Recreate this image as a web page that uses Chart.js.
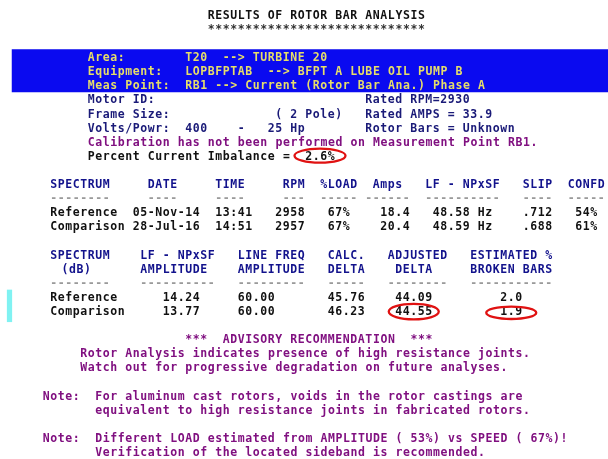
<!DOCTYPE html>
<html>
<head>
<meta charset="utf-8">
<script src="https://cdn.jsdelivr.net/npm/chart.js@4.4.1/dist/chart.umd.min.js"></script>
<style>
  html, body { margin: 0; padding: 0; background: #ffffff; }
  canvas { display: block; }
</style>
</head>
<body>
<canvas id="report" width="608" height="459"></canvas>
<script>
// ------------------------------------------------------------------
// DATA (read from the reference report)
// ------------------------------------------------------------------
const reportTitle = 'RESULTS OF ROTOR BAR ANALYSIS';
const bandLabels = ['Area:', 'Equipment:', 'Meas Point:'];
const bandValues = [
  'T20  --> TURBINE 20',
  'LOPBFPTAB  --> BFPT A LUBE OIL PUMP B',
  'RB1 --> Current (Rotor Bar Ana.) Phase A'
];
const motorLabels = ['Motor ID:', 'Frame Size:', 'Volts/Powr:'];
const motorId = '';
const poles = 2;
const volts = 400;
const horsepower = 25;
const ratedRPM = 2930;
const ratedAmps = 33.9;
const rotorBars = 'Unknown';
const calibrationNote = 'Calibration has not been performed on Measurement Point RB1.';
const currentImbalance = 2.6;   // percent

// Table 1
const table1Headers = ['SPECTRUM', 'DATE', 'TIME', 'RPM', '%LOAD', 'Amps', 'LF - NPxSF', 'SLIP', 'CONFD'];
const spectra    = ['Reference', 'Comparison'];
const dates      = ['05-Nov-14', '28-Jul-16'];
const times      = ['13:41', '14:51'];
const rpm        = [2958, 2957];
const loadPct    = [67, 67];
const amps       = [18.4, 20.4];
const lfFreqHz   = [48.58, 48.59];
const slip       = [0.712, 0.688];
const confidence = [54, 61];

// Table 2
const table2Headers1 = ['SPECTRUM', 'LF - NPxSF', 'LINE FREQ', 'CALC.', 'ADJUSTED', 'ESTIMATED %'];
const table2Headers2 = ['(dB)', 'AMPLITUDE', 'AMPLITUDE', 'DELTA', 'DELTA', 'BROKEN BARS'];
const lfAmplitude       = [14.24, 13.77];
const lineFreqAmplitude = [60.00, 60.00];
const calcDelta         = [45.76, 46.23];
const adjustedDelta     = [44.09, 44.55];
const brokenBarsPct     = [2.0, 1.9];

// Advisory & notes
const advisoryTitle = '***  ADVISORY RECOMMENDATION  ***';
const advisoryLines = [
  'Rotor Analysis indicates presence of high resistance joints.',
  'Watch out for progressive degradation on future analyses.'
];
const noteLabel = 'Note:';
const notes = [
  ['For aluminum cast rotors, voids in the rotor castings are',
   'equivalent to high resistance joints in fabricated rotors.'],
  ['Different LOAD estimated from AMPLITUDE ( 53%) vs SPEED ( 67%)!',
   'Verification of the located sideband is recommended.']
];

// ------------------------------------------------------------------
// LAYOUT / STYLE (text grid: columns x rows)
// ------------------------------------------------------------------
const CANVAS_W = 608, CANVAS_H = 459;
const CELL_W = 7.5, ROW_H = 14.1;
const ORIGIN_X = 50, ORIGIN_Y = 57;
const FONT_PX = 11.5;
const FONT = 'bold ' + FONT_PX + 'px "DejaVu Sans Mono", "Liberation Mono", monospace';

const C_BLACK  = '#111111';
const C_NAVY   = '#1a1a78';
const C_HEAD   = '#12128c';
const C_DASH   = '#9a9a9a';
const C_PURPLE = '#801080';
const C_BAND   = '#0a0af0';
const C_BANDTX = '#e6de6a';
const C_RED    = '#e01212';
const C_CYAN   = '#80f2f2';

const fmt2 = v => v.toFixed(2);
const fmt1 = v => v.toFixed(1);
const fmtSlip = v => v.toFixed(3).replace(/^0/, '');

// ------------------------------------------------------------------
// Plugin that typesets the report on the chart's scales
// ------------------------------------------------------------------
const reportPlugin = {
  id: 'rotorReport',
  afterDraw(chart) {
    const ctx = chart.ctx;
    const xs = chart.scales.x, ys = chart.scales.y;
    const X = c => xs.getPixelForValue(c);
    const Y = r => ys.getPixelForValue(r);
    const cw = X(1) - X(0);

    ctx.save();
    // blue header band
    ctx.fillStyle = C_BAND;
    ctx.fillRect(X(-5.1), Y(-0.55), X(75) - X(-5.1), Y(2.5) - Y(-0.55));
    // cyan marker at left of table 2 rows
    ctx.fillStyle = C_CYAN;
    ctx.fillRect(X(-5.75), Y(16.5), X(-5.05) - X(-5.75), Y(18.8) - Y(16.5));

    ctx.font = FONT;
    ctx.letterSpacing = '0px';
    const adv = ctx.measureText('MMMMMMMMMM').width / 10;
    const extra = cw - adv;
    ctx.letterSpacing = extra.toFixed(2) + 'px';
    ctx.textAlign = 'left';
    ctx.textBaseline = 'alphabetic';
    const base = FONT_PX * 0.729 / 2;
    const put = (text, col, row, color) => {
      ctx.fillStyle = color;
      ctx.fillText(String(text), X(col) + extra / 2, Y(row) + base);
    };
    const dashes = n => '-'.repeat(n);

    // title
    put(reportTitle, 21, -3, C_BLACK);
    put('*'.repeat(reportTitle.length), 21, -2, '#333333');

    // band lines
    bandLabels.forEach((lab, i) => {
      put(lab, 5, i, C_BANDTX);
      put(bandValues[i], 18, i, C_BANDTX);
    });

    // motor info
    put(motorLabels[0], 5, 3, C_NAVY);
    put(motorId, 18, 3, C_NAVY);
    put('Rated RPM=' + ratedRPM, 42, 3, C_NAVY);
    put(motorLabels[1], 5, 4, C_NAVY);
    put('( ' + poles + ' Pole)', 30, 4, C_NAVY);
    put('Rated AMPS = ' + fmt1(ratedAmps), 42, 4, C_NAVY);
    put(motorLabels[2], 5, 5, C_NAVY);
    put(String(volts), 18, 5, C_NAVY);
    put('-', 25, 5, C_NAVY);
    put(horsepower + ' Hp', 29, 5, C_NAVY);
    put('Rotor Bars = ' + rotorBars, 42, 5, C_NAVY);
    put(calibrationNote, 5, 6, C_PURPLE);
    put('Percent Current Imbalance =', 5, 7, C_BLACK);
    const imbText = fmt1(currentImbalance) + '%';
    put(imbText, 34, 7, C_BLACK);

    // ---- table 1 ----
    const t1HeadCols = [0, 13, 22, 31, 36, 43, 50, 63, 69];
    const t1DashCols = [0, 13, 22, 31, 36, 42, 50, 63, 69];
    const t1DashLens = [8, 4, 4, 3, 5, 6, 10, 4, 5];
    const t1ValCols  = [0, 11, 22, 30, 37, 44, 51, 63, 70];
    table1Headers.forEach((h, i) => {
      put(h, t1HeadCols[i], 9, C_HEAD);
      put(dashes(t1DashLens[i]), t1DashCols[i], 10, C_DASH);
    });
    spectra.forEach((s, r) => {
      const row = 11 + r;
      const cells = [s, dates[r], times[r], String(rpm[r]), loadPct[r] + '%',
                     fmt1(amps[r]), fmt2(lfFreqHz[r]) + ' Hz', fmtSlip(slip[r]), confidence[r] + '%'];
      cells.forEach((c, i) => put(c, t1ValCols[i], row, C_BLACK));
    });

    // ---- table 2 ----
    const t2HeadCols  = [0, 12, 25, 37, 45, 56];
    const t2Head2Cols = [1.5, 12, 25, 37, 46, 56];
    const t2DashLens  = [8, 10, 9, 5, 8, 11];
    const t2ValCols   = [0, 15, 25, 37, 46, 60];
    table2Headers1.forEach((h, i) => {
      put(h, t2HeadCols[i], 14, C_HEAD);
      put(table2Headers2[i], t2Head2Cols[i], 15, C_HEAD);
      put(dashes(t2DashLens[i]), t2HeadCols[i], 16, C_DASH);
    });
    spectra.forEach((s, r) => {
      const row = 17 + r;
      const cells = [s, fmt2(lfAmplitude[r]), fmt2(lineFreqAmplitude[r]),
                     fmt2(calcDelta[r]), fmt2(adjustedDelta[r]), fmt1(brokenBarsPct[r])];
      cells.forEach((c, i) => put(c, t2ValCols[i], row, C_BLACK));
    });

    // ---- advisory ----
    put(advisoryTitle, 18, 20, C_PURPLE);
    advisoryLines.forEach((l, i) => put(l, 4, 21 + i, C_PURPLE));

    // ---- notes ----
    notes.forEach((n, k) => {
      const row = 24 + 3 * k;
      put(noteLabel, -1, row, C_PURPLE);
      n.forEach((l, i) => put(l, 6, row + i, C_PURPLE));
    });

    // ---- red hand-drawn ellipses around key values ----
    ctx.letterSpacing = '0px';
    const ring = (col, len, row, rx, ry, dy) => {
      const cx = (X(col) + X(col + len)) / 2;
      const cy = Y(row) + dy;
      ctx.beginPath();
      ctx.ellipse(cx, cy, rx, ry, 0, 0, Math.PI * 2);
      ctx.strokeStyle = C_RED;
      ctx.lineWidth = 2.3;
      ctx.stroke();
    };
    ring(34, imbText.length, 7, 25.5, 7, 0);
    ring(46, fmt2(adjustedDelta[1]).length, 18, 25, 7.8, 0.8);
    ring(60, fmt1(brokenBarsPct[1]).length, 18, 25, 6.2, 2);

    ctx.restore();
  }
};

new Chart(document.getElementById('report'), {
  type: 'scatter',
  data: { datasets: [{ data: [], pointRadius: 0 }] },
  options: {
    responsive: false,
    animation: false,
    devicePixelRatio: 1,
    layout: { padding: 0 },
    events: [],
    plugins: { legend: { display: false }, tooltip: { enabled: false }, title: { display: false } },
    scales: {
      x: { type: 'linear', display: false,
           min: -ORIGIN_X / CELL_W, max: (CANVAS_W - ORIGIN_X) / CELL_W },
      y: { type: 'linear', display: false, reverse: true,
           min: -ORIGIN_Y / ROW_H, max: (CANVAS_H - ORIGIN_Y) / ROW_H }
    }
  },
  plugins: [reportPlugin]
});
</script>
</body>
</html>
